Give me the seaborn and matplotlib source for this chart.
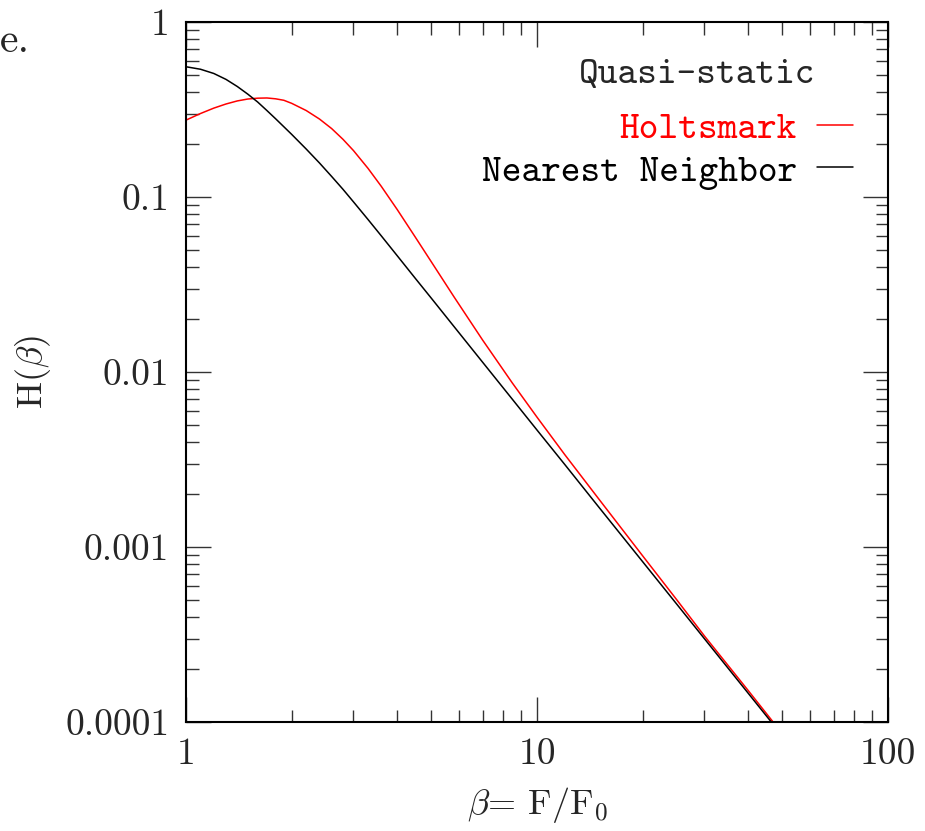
import numpy as np
import pandas as pd
import matplotlib
matplotlib.use("Agg")
import matplotlib.pyplot as plt
import matplotlib.ticker as mticker
import seaborn as sns

# beta = F / F0 sample points
beta = [1.0, 1.1, 1.2, 1.3, 1.4, 1.5, 1.6, 1.7, 1.8, 1.9, 2.0, 2.2, 2.4,
        2.6, 2.8, 3.0, 3.3, 3.6, 4.0, 4.5, 5.0, 5.8, 7.0, 8.5, 10.0, 12.0,
        15.0, 20.0, 25.0, 30.0, 40.0, 50.0]

holtsmark = [0.275, 0.300, 0.322, 0.340, 0.354, 0.363, 0.367, 0.368, 0.364,
             0.357, 0.343, 0.312, 0.279, 0.246, 0.2137, 0.1842, 0.1458,
             0.1151, 0.0846, 0.0590, 0.0426, 0.0269, 0.01522, 0.00867,
             0.00552, 0.00337, 0.00188, 0.00089, 0.00050, 0.00031,
             0.000151, 0.0000858]

nearest = [0.555, 0.537, 0.508, 0.470, 0.428, 0.387, 0.349, 0.312, 0.280,
           0.252, 0.228, 0.188, 0.1565, 0.131, 0.1107, 0.0938, 0.0744,
           0.0600, 0.0461, 0.0343, 0.0264, 0.0182, 0.01137, 0.0070, 0.00466,
           0.00296, 0.00169, 0.000824, 0.000472, 0.000299, 0.0001457,
           0.0000834]

series_names = ["Holtsmark", "Nearest Neighbor"]
series_colors = {"Holtsmark": "#ff0000", "Nearest Neighbor": "#000000"}

yticks = [1e-4, 1e-3, 1e-2, 1e-1, 1]
ytick_labels = ["0.0001", "0.001", "0.01", "0.1", "1"]
xticks = [1, 10, 100]
xtick_labels = ["1", "10", "100"]

df = pd.DataFrame({
    "beta": beta * 2,
    "H": holtsmark + nearest,
    "model": ["Holtsmark"] * len(beta) + ["Nearest Neighbor"] * len(beta),
})

sns.set_style("ticks")
plt.rcParams["mathtext.fontset"] = "cm"
plt.rcParams["axes.formatter.use_mathtext"] = True

fig = plt.figure(figsize=(9.25, 8.31), dpi=100)
ax = fig.add_axes([186 / 925, 1 - 722 / 831, 702 / 925, 700 / 831])

sns.lineplot(data=df, x="beta", y="H", hue="model", hue_order=series_names,
             palette=series_colors, linewidth=1.1, legend=False, ax=ax,
             sort=False, estimator=None)

ax.set_xscale("log")
ax.set_yscale("log")
ax.set_xlim(1, 100)
ax.set_ylim(1e-4, 1)

tick_font = {"family": "cmr10", "size": 27}
ax.set_xticks(xticks)
ax.set_xticklabels(xtick_labels, fontdict=tick_font)
ax.set_yticks(yticks)
ax.set_yticklabels(ytick_labels, fontdict=tick_font)
ax.xaxis.set_minor_formatter(mticker.NullFormatter())
ax.yaxis.set_minor_formatter(mticker.NullFormatter())

ax.tick_params(which="both", direction="in", top=True, right=True,
               color="#333333", width=1.0)
ax.tick_params(which="major", length=18, pad=12)
ax.tick_params(which="minor", length=9)
ax.tick_params(axis="x", which="major", pad=11)
for s in ax.spines.values():
    s.set_linewidth(1.5)
    s.set_color("black")

ax.set_xlabel(r"$\beta$= F/F$_0$", fontsize=26, family="cmr10")
ax.set_ylabel(r"H($\beta$)", fontsize=26, family="cmr10")
ax.xaxis.set_label_coords(0.5, -0.09)
ax.yaxis.set_label_coords(-0.19, 0.5)

# legend block
ax.text(0.896, 0.923, "Quasi-static", family="cmtt10", fontsize=27,
        ha="right", va="center", transform=ax.transAxes)
leg = ax.legend(ax.lines[:2], series_names, loc="upper right",
                bbox_to_anchor=(0.95, 0.872), frameon=False, markerfirst=False,
                prop={"family": "cmtt10", "size": 27}, handlelength=0.95,
                handletextpad=0.55, labelspacing=0.2, borderpad=0,
                borderaxespad=0, labelcolor="linecolor")

# stray caption fragment at the page edge
fig.text(0.0, 1 - 41 / 831, "e.", family="cmr10", fontsize=30,
         ha="left", va="center")

plt.savefig("out.png", dpi=100)
plt.close()
